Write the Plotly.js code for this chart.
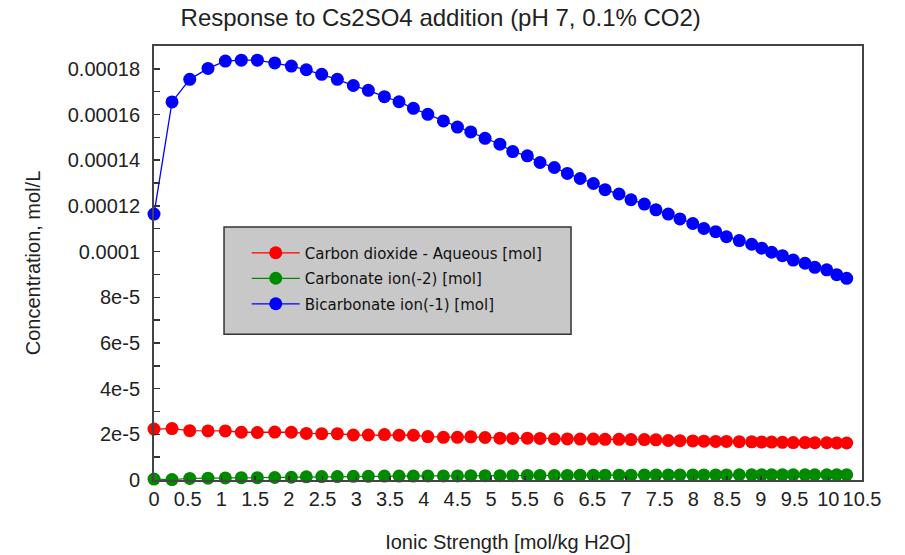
<!DOCTYPE html>
<html>
<head>
<meta charset="utf-8">
<script src="https://cdn.plot.ly/plotly-3.0.1.min.js"></script>
<style>html,body{margin:0;padding:0;background:#fff;}#chart{width:905px;height:555px;}</style>
</head>
<body>
<div id="chart"></div>
<script>
// Ionic strength [mol/kg H2O]
const ionicStrength = [0.00, 0.267, 0.530, 0.801, 1.058, 1.295, 1.533, 1.791, 2.037, 2.259,
  2.487, 2.719, 2.956, 3.179, 3.417, 3.634, 3.847, 4.061, 4.292, 4.500,
  4.698, 4.910, 5.130, 5.320, 5.537, 5.725, 5.937, 6.130, 6.320, 6.516,
  6.690, 6.896, 7.074, 7.272, 7.444, 7.627, 7.800, 7.990, 8.155, 8.330,
  8.490, 8.680, 8.864, 9.012, 9.160, 9.320, 9.480, 9.655, 9.800, 9.977,
  10.125, 10.273];

// Concentrations, micro-mol/L (converted to mol/L below)
const co2AqueousMicro = [22.3, 22.5, 21.6, 21.5, 21.5, 20.9, 20.8, 21.0, 20.9, 20.4,
  20.3, 20.3, 19.7, 19.7, 19.9, 19.6, 19.6, 19.0, 18.7, 18.7,
  18.9, 18.6, 18.3, 18.2, 18.3, 18.2, 18.0, 18.0, 17.9, 17.9,
  17.8, 17.8, 17.7, 17.7, 17.6, 17.3, 17.2, 17.1, 17.0, 16.9,
  16.9, 16.8, 16.7, 16.6, 16.6, 16.5, 16.4, 16.4, 16.3, 16.3,
  16.2, 16.2];
const carbonateMicro = [0.4, 0.2, 0.7, 0.8, 0.9, 1.0, 1.0, 1.1, 1.2, 1.4,
  1.5, 1.5, 1.6, 1.6, 1.7, 1.7, 1.7, 1.8, 1.8, 1.8,
  1.9, 1.9, 1.9, 1.9, 2.0, 2.0, 2.0, 2.0, 2.1, 2.1,
  2.1, 2.1, 2.1, 2.2, 2.2, 2.2, 2.2, 2.2, 2.2, 2.2,
  2.2, 2.3, 2.3, 2.3, 2.3, 2.3, 2.3, 2.3, 2.3, 2.3,
  2.3, 2.3];
const bicarbonateMicro = [116.4, 165.5, 175.4, 180.2, 183.4, 183.8, 183.8, 182.6, 181.2, 179.6,
  177.6, 175.4, 172.7, 170.6, 167.8, 165.6, 162.7, 160.1, 157.2, 154.5,
  152.4, 149.6, 147.0, 143.8, 141.9, 139.0, 136.8, 134.2, 132.0, 129.8,
  127.1, 125.2, 122.7, 120.8, 118.3, 116.4, 114.3, 112.3, 110.1, 108.7,
  106.5, 104.8, 103.2, 101.5, 99.7, 98.2, 96.3, 94.9, 93.1, 92.0,
  89.9, 88.3];

const seriesNames = ["Carbon dioxide - Aqueous [mol]", "Carbonate ion(-2) [mol]", "Bicarbonate ion(-1) [mol]"];
const seriesColors = ["#ff0000", "#008a00", "#0000ff"];

const yTickVals = [0, 2e-5, 4e-5, 6e-5, 8e-5, 1e-4, 1.2e-4, 1.4e-4, 1.6e-4, 1.8e-4];
const yTickText = ["0", "2e-5", "4e-5", "6e-5", "8e-5", "0.0001", "0.00012", "0.00014", "0.00016", "0.00018"];

const toMol = a => a.map(v => v * 1e-6);
const seriesValues = [toMol(co2AqueousMicro), toMol(carbonateMicro), toMol(bicarbonateMicro)];

const traces = seriesValues.map((vals, i) => ({
  x: ionicStrength,
  y: vals,
  type: "scatter",
  mode: "lines+markers",
  name: seriesNames[i],
  legendgroup: "g" + i,
  line: {color: seriesColors[i], width: 1.3},
  marker: {color: seriesColors[i], size: 13, symbol: "circle", line: {width: 0}},
  cliponaxis: false
}));

const axisFont = {family: "Liberation Sans, Arial, sans-serif", size: 20, color: "#222"};

const layout = {
  width: 905, height: 555,
  margin: {l: 154, r: 43, t: 46, b: 75},
  paper_bgcolor: "#ffffff",
  plot_bgcolor: "#ffffff",
  title: {
    text: "Response to Cs2SO4 addition (pH 7, 0.1% CO2)",
    font: {family: "Liberation Sans, Arial, sans-serif", size: 24, color: "#222"},
    x: 0.487, xref: "container", xanchor: "center",
    y: 0.968, yref: "container", yanchor: "middle"
  },
  xaxis: {
    range: [0, 10.5],
    tickmode: "linear", tick0: 0, dtick: 0.5,
    tickangle: 0,
    ticks: "inside", ticklen: 4, tickwidth: 1.5, tickcolor: "#333",
    showline: true, linecolor: "#444", linewidth: 2, mirror: true,
    showgrid: false, zeroline: false,
    tickfont: axisFont,
    title: {text: "Ionic Strength [mol/kg H2O]", font: axisFont, standoff: 26}
  },
  yaxis: {
    range: [0, 1.9e-4],
    tickmode: "array", tickvals: yTickVals, ticktext: yTickText,
    ticks: "inside", ticklen: 6, tickwidth: 1.5, tickcolor: "#333",
    ticklabelstandoff: 8,
    minor: {tickmode: "linear", tick0: 0, dtick: 1e-5, ticks: "inside", ticklen: 6, tickwidth: 1.5, tickcolor: "#333", showgrid: false},
    showline: true, linecolor: "#444", linewidth: 2, mirror: true,
    showgrid: false, zeroline: false,
    tickfont: axisFont,
    title: {text: "Concentration, mol/L", font: axisFont, standoff: 22}
  },
  shapes: [{
    type: "rect", xref: "paper", yref: "paper",
    x0: 0.0989, x1: 0.589, y0: 0.336, y1: 0.583,
    fillcolor: "#c8c8c8", line: {color: "#333", width: 1.5}, layer: "below"
  }],
  showlegend: true,
  legend: {
    x: 0.131, y: 0.561, xanchor: "left", yanchor: "top",
    bgcolor: "rgba(0,0,0,0)", borderwidth: 0,
    font: {family: "DejaVu Sans, Verdana, sans-serif", size: 15, color: "#111"},
    tracegroupgap: 3,
    itemwidth: 48
  }
};

Plotly.newPlot("chart", traces, layout, {displayModeBar: false, staticPlot: true});
</script>
</body>
</html>
